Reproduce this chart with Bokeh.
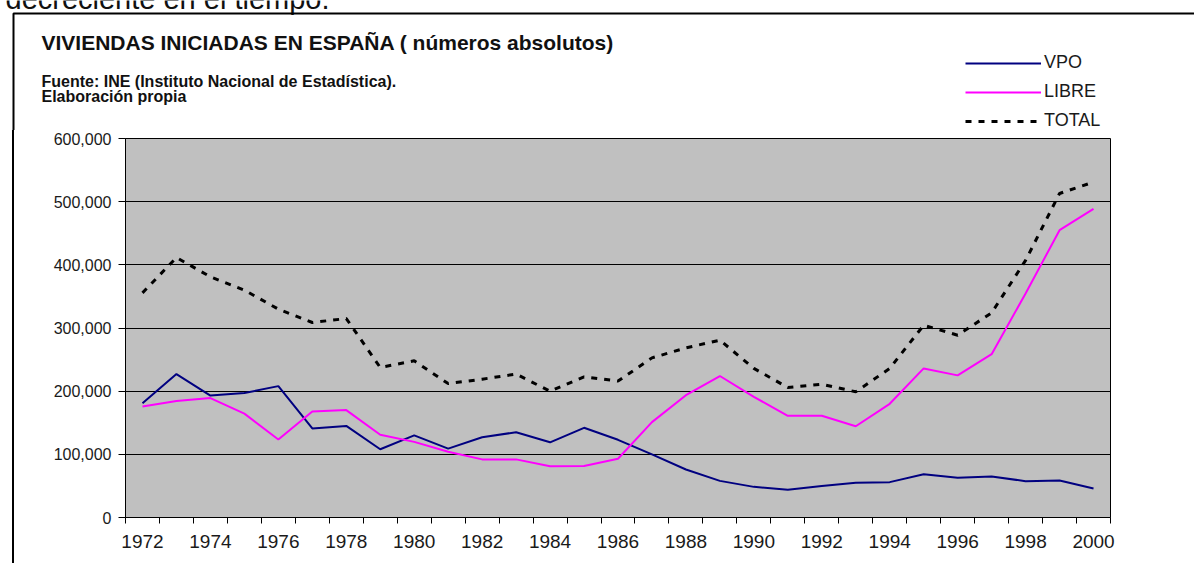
from bokeh.plotting import figure
from bokeh.layouts import column, row
from bokeh.models import (FixedTicker, NumeralTickFormatter, Label, Legend, LegendItem,
                          BoxAnnotation, Range1d, Spacer)
from bokeh.embed import file_html
from bokeh.resources import INLINE

years = list(range(1972, 2001))
year_labels = list(range(1972, 2001, 2))
y_ticks = [0, 100000, 200000, 300000, 400000, 500000, 600000]

vpo = [181000, 227000, 193000, 197000, 208000, 141000, 145000, 108000, 130000, 109000,
       127000, 135000, 119000, 142000, 123000, 100000, 76000, 58000, 48500, 44000,
       50000, 55000, 56000, 68500, 63000, 65000, 57500, 58500, 46000]
libre = [175600, 184600, 189000, 164500, 123400, 167800, 170000, 131000, 119700, 104000,
         92000, 92000, 81000, 81500, 93000, 151000, 193600, 224000, 191000, 161000,
         161000, 144500, 180000, 236000, 225000, 258500, 354600, 454800, 488600]
total = [355600, 411600, 381000, 360000, 329800, 308700, 315000, 237500, 248000, 212000,
         219000, 227000, 200000, 222600, 216000, 252700, 268500, 280700, 236000, 205800,
         211000, 199000, 236000, 304400, 288600, 324000, 407000, 513000, 531000]

series_names = ["VPO", "LIBRE", "TOTAL"]
title_text = "VIVIENDAS INICIADAS EN ESPAÑA ( números absolutos)"
source_line1 = "Fuente: INE (Instituto Nacional de Estadística)."
source_line2 = "Elaboración propia"
top_text = "decreciente en el tiempo."

FONT = "Liberation Sans"
W, H = 1194, 563
HDR_H = 130
GAP_W, EDGE_W = 12, 2
MAIN_H = H - HDR_H
MAIN_W = W - GAP_W - EDGE_W

styles = [dict(line_color="#000080", line_width=2),
          dict(line_color="#ff00ff", line_width=2),
          dict(line_color="black", line_width=3, line_dash="6 7")]

# ---------- header (titles, legend, top-left corner of document frame) ----------
hdr = figure(width=W, height=HDR_H, output_backend="svg", toolbar_location=None,
             x_axis_location=None, y_axis_location=None,
             x_range=Range1d(0, W), y_range=Range1d(0, HDR_H),
             min_border=0, min_border_left=0, min_border_right=0,
             min_border_top=0, min_border_bottom=0)
hdr.grid.visible = False
hdr.outline_line_color = None
hdr.background_fill_color = "white"
hdr.border_fill_color = "white"


def lab(text, x, y_from_top, size, bold=False):
    return Label(x=x, y=HDR_H - y_from_top, x_units="screen", y_units="screen", text=text,
                 text_font=FONT, text_font_size=size,
                 text_font_style="bold" if bold else "normal",
                 text_color="#111111", text_baseline="alphabetic", text_align="left")


hdr.add_layout(lab(top_text, 5, -2, "29px"))
hdr.add_layout(lab(title_text, 41, 41.5, "21px", True))
hdr.add_layout(lab(source_line1, 41, 80.7, "16px", True))
hdr.add_layout(lab(source_line2, 41, 96.2, "16px", True))
hdr.add_layout(BoxAnnotation(left=13, right=W + 50, top=HDR_H - 13, bottom=-50,
                             left_units="screen", right_units="screen",
                             top_units="screen", bottom_units="screen",
                             fill_alpha=0, line_color="black", line_alpha=1, line_width=2))

# legend samples: same series, far outside this header's range (only legend glyphs show)
hdr_r = [hdr.line(years, s, **st) for s, st in zip([vpo, libre, total], styles)]
legend = Legend(items=[LegendItem(label=n, renderers=[r]) for n, r in zip(series_names, hdr_r)],
                location=(965, -1), orientation="vertical",
                glyph_width=76, glyph_height=16, label_height=16, spacing=8,
                padding=0, margin=0, label_standoff=3,
                label_text_font=FONT, label_text_font_size="18px", label_text_color="#1a1a1a",
                border_line_color=None, background_fill_alpha=0)
hdr.add_layout(legend, "center")

# ---------- left edge of document frame ----------
gap = Spacer(width=GAP_W, height=MAIN_H, styles={"background-color": "white"})
edge = Spacer(width=EDGE_W, height=MAIN_H, styles={"background-color": "black"})

# ---------- main chart ----------
p = figure(width=MAIN_W, height=MAIN_H, output_backend="svg", toolbar_location=None,
           x_range=Range1d(years[0] - 0.5, years[-1] + 0.5),
           y_range=Range1d(y_ticks[0], y_ticks[-1]),
           min_border_left=111, min_border_right=84, min_border_top=8, min_border_bottom=46)
p.background_fill_color = "#c0c0c0"
p.border_fill_color = "white"
p.outline_line_color = "black"
p.outline_line_width = 1

boundaries = [y - 0.5 for y in years] + [years[-1] + 0.5]
p.xaxis.ticker = FixedTicker(ticks=year_labels, minor_ticks=boundaries)
p.xaxis.major_tick_line_color = None
p.xaxis.major_tick_out = 6
p.xaxis.major_tick_in = 0
p.xaxis.minor_tick_line_color = "black"
p.xaxis.minor_tick_out = 6
p.xaxis.minor_tick_in = 0
p.xaxis.major_label_standoff = 11
p.xaxis.major_label_text_font = FONT
p.xaxis.major_label_text_font_size = "19px"
p.xaxis.major_label_text_color = "#1a1a1a"
p.xaxis.axis_line_color = "black"

p.yaxis.ticker = FixedTicker(ticks=y_ticks)
p.yaxis.formatter = NumeralTickFormatter(format="0,0")
p.yaxis.major_tick_out = 7
p.yaxis.major_tick_in = 0
p.yaxis.minor_tick_line_color = None
p.yaxis.major_tick_line_color = "black"
p.yaxis.major_label_standoff = 7
p.yaxis.major_label_text_font = FONT
p.yaxis.major_label_text_font_size = "16px"
p.yaxis.major_label_text_color = "#1a1a1a"
p.yaxis.axis_line_color = "black"

p.xgrid.grid_line_color = None
p.ygrid.ticker = FixedTicker(ticks=y_ticks)
p.ygrid.grid_line_color = "black"
p.ygrid.grid_line_width = 1

for s, st in zip([vpo, libre, total], styles):
    p.line(years, s, **st)

layout = column(hdr, row(gap, edge, p, spacing=0), spacing=0)
open("out.html", "w").write(file_html(layout, INLINE))
